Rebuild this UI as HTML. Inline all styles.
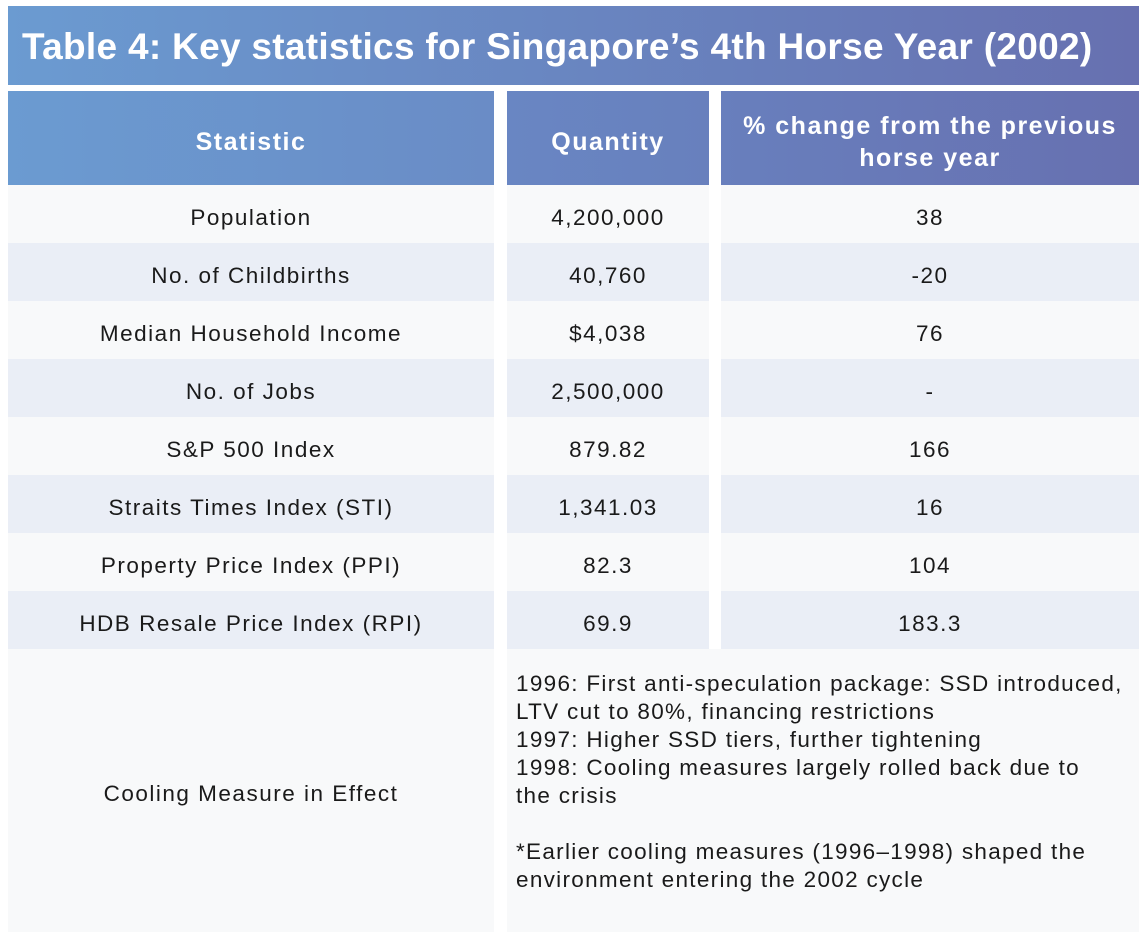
<!DOCTYPE html>
<html><head><meta charset="utf-8"><style>
body{margin:0;width:1144px;height:944px;background:#fff;font-family:"Liberation Sans",sans-serif;position:relative;overflow:hidden}
.t{position:absolute;left:8px;top:6px;width:1131px;height:79px;background:linear-gradient(90deg,#6b9bd1,#6770b0);color:#fff;font-weight:bold;font-size:37px;line-height:82px;padding-left:14px;box-sizing:border-box;letter-spacing:0.3px;white-space:nowrap}
.c{position:absolute;display:flex;align-items:center;justify-content:center;text-align:center;font-size:22.5px;color:#1a1a1a;box-sizing:border-box;letter-spacing:1.5px;padding-top:7px}
.h{color:#fff;font-weight:bold;font-size:25px;line-height:32px;letter-spacing:1.5px;padding-top:8px}
.a{background:#f8f9fa}.b{background:#eaeef6}
</style></head><body>
<div class="t">Table 4: Key statistics for Singapore’s 4th Horse Year (2002)</div>
<div class="c h" style="left:8px;top:91px;width:486px;height:94px;background:linear-gradient(90deg,#6b9bd1,#6a8cc6)">Statistic</div>
<div class="c h" style="left:507px;top:91px;width:202px;height:94px;background:linear-gradient(90deg,#6986c3,#6880bd)">Quantity</div>
<div class="c h" style="left:721px;top:91px;width:418px;height:94px;background:linear-gradient(90deg,#687fbd,#6770b0)">% change from the previous<br>horse year</div>
<div id="rows"></div>
<script>
var d=[["Population","4,200,000","38"],["No. of Childbirths","40,760","-20"],["Median Household Income","$4,038","76"],["No. of Jobs","2,500,000","-"],["S&amp;P 500 Index","879.82","166"],["Straits Times Index (STI)","1,341.03","16"],["Property Price Index (PPI)","82.3","104"],["HDB Resale Price Index (RPI)","69.9","183.3"]];
var h="";d.forEach(function(r,i){var y=185+i*58,k=i%2?"b":"a";
h+='<div class="c '+k+'" style="left:8px;top:'+y+'px;width:486px;height:58px">'+r[0]+'</div>';
h+='<div class="c '+k+'" style="left:507px;top:'+y+'px;width:202px;height:58px">'+r[1]+'</div>';
h+='<div class="c '+k+'" style="left:721px;top:'+y+'px;width:418px;height:58px">'+r[2]+'</div>';});
document.getElementById("rows").innerHTML=h;
</script>
<div class="c a" style="left:8px;top:649px;width:486px;height:283px">Cooling Measure in Effect</div>
<div class="a" style="position:absolute;left:507px;top:649px;width:632px;height:283px"></div>
<div style="position:absolute;left:516px;top:670px;width:616px;font-size:22.5px;line-height:28px;color:#1a1a1a;letter-spacing:1.3px">1996: First anti-speculation package: SSD introduced,<br>LTV cut to 80%, financing restrictions<br>1997: Higher SSD tiers, further tightening<br>1998: Cooling measures largely rolled back due to<br>the crisis<br><br>*Earlier cooling measures (1996–1998) shaped the<br>environment entering the 2002 cycle</div>
</body></html>
